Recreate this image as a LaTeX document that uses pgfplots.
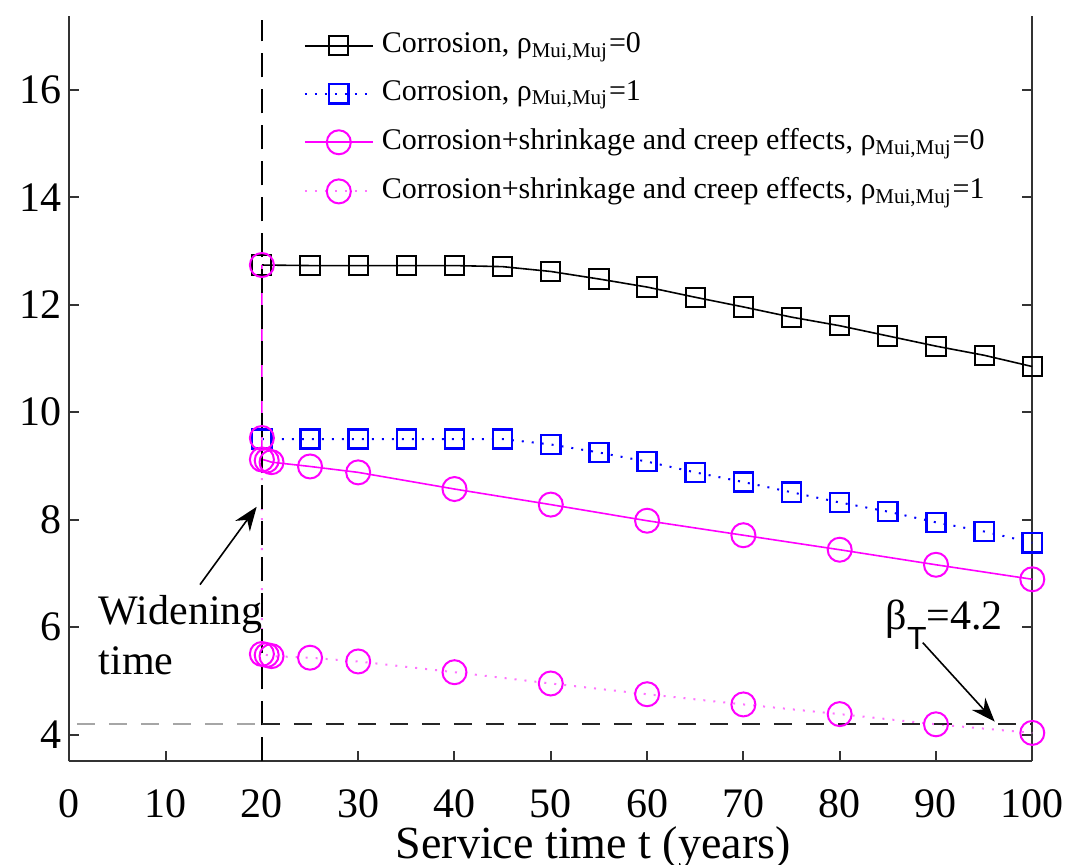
\documentclass[border=0pt]{standalone}
\usepackage{fontspec}
\setmainfont{Liberation Serif}
\setsansfont{Liberation Sans}
\usepackage{pgfplots}
\pgfplotsset{compat=1.18}
\usetikzlibrary{arrows.meta}
\definecolor{mag}{RGB}{255,0,255}
\definecolor{blu}{RGB}{0,0,255}
\begin{document}
\begin{tikzpicture}
\begin{axis}[
  scale only axis, width=240.75pt, height=186.4pt,
  xmin=0, xmax=100, ymin=3.5, ymax=17.38,
  axis x line*=bottom,
  tick align=inside, major tick length=2.5pt,
  xtick={0,10,...,100}, ytick={4,6,...,16},
  ytick pos=both,
  tick label style={font=\fontsize{10.5}{12}\selectfont},
  /pgf/number format/assume math mode=true,
  xticklabel style={yshift=-3.5pt},
  yticklabel style={xshift=1.5pt},
  axis line style={line width=0.5pt, black!80},
  tick style={black!80, line width=0.5pt},
  clip=false,
  legend style={at={(axis cs:24.27,17.225)}, anchor=north west, draw=none, fill=none,
    inner sep=0pt, font=\fontsize{7.5}{9}\selectfont, row sep=1.5pt,
    /tikz/every even column/.append style={column sep=0pt}},
  legend cell align=left,
  legend image code/.code={\draw[mark repeat=2,mark phase=2,#1] plot coordinates {(0pt,0pt) (8.5pt,0pt) (17pt,0pt)};},
]
\coordinate (bbsw) at (axis cs:-7.196,1.581);
\coordinate (bbne) at (axis cs:104.23,17.674);

\addplot[black, line width=0.4pt, mark=square, mark size=2.4pt, mark options={solid, line width=0.5pt}] coordinates {
(20,12.74)(25,12.73)(30,12.73)(35,12.73)(40,12.73)(45,12.71)(50,12.62)(55,12.48)(60,12.33)(65,12.14)(70,11.96)(75,11.77)(80,11.61)(85,11.42)(90,11.23)(95,11.06)(100,10.85)};
\addlegendentry{Corrosion, ρ\textsubscript{Mui,Muj}=0}

\addplot[blu, dotted, line width=0.5pt, mark=square, mark size=2.4pt, mark options={solid, line width=0.6pt}] coordinates {
(20,9.50)(25,9.50)(30,9.50)(35,9.50)(40,9.50)(45,9.50)(50,9.40)(55,9.25)(60,9.08)(65,8.88)(70,8.70)(75,8.51)(80,8.32)(85,8.15)(90,7.95)(95,7.78)(100,7.57)};
\addlegendentry{Corrosion, ρ\textsubscript{Mui,Muj}=1}

\addplot[mag, line width=0.4pt, mark=o, mark size=3pt, mark options={solid, line width=0.5pt}] coordinates {
(20,12.74)(20,9.12)(20.5,9.10)(21,9.07)(25,8.99)(30,8.88)(40,8.57)(50,8.28)(60,7.98)(70,7.71)(80,7.44)(90,7.16)(100,6.89)};
\addlegendentry{Corrosion+shrinkage and creep effects, ρ\textsubscript{Mui,Muj}=0}

\addplot[mag!55, dotted, line width=0.5pt, mark=o, mark size=3pt, mark options={solid, mag, line width=0.5pt}] coordinates {
(20,9.52)(20,5.50)(20.5,5.48)(21,5.46)(25,5.43)(30,5.36)(40,5.16)(50,4.95)(60,4.75)(70,4.56)(80,4.38)(90,4.19)(100,4.03)};
\addlegendentry{Corrosion+shrinkage and creep effects, ρ\textsubscript{Mui,Muj}=1}

\addplot[forget plot, black, line width=0.5pt, dash pattern=on 6pt off 3pt] coordinates {(20,3.5)(20,17.3)};
\addplot[forget plot, black!35, line width=0.5pt, dash pattern=on 4.5pt off 3.5pt] coordinates {(0.8,4.2)(20,4.2)};
\addplot[forget plot, black!85, line width=0.5pt, dash pattern=on 4.5pt off 3.5pt] coordinates {(20,4.2)(100,4.2)};

\draw[black, line width=0.4pt, -{Stealth[length=6pt,width=4.5pt]}] (axis cs:13.57,6.79) -- (axis cs:19.46,8.24);
\draw[black, line width=0.4pt, -{Stealth[length=6pt,width=4.5pt]}] (axis cs:88.63,5.71) -- (axis cs:96.1,4.24);

\node[anchor=base west, inner sep=0pt, font=\fontsize{10.5}{12}\selectfont] at (axis cs:2.98,6.047) {Widening};
\node[anchor=base west, inner sep=0pt, font=\fontsize{10.5}{12}\selectfont] at (axis cs:2.98,5.116) {time};
\node[anchor=base west, inner sep=0pt, font=\fontsize{10.5}{12}\selectfont] at (axis cs:84.7,5.95) {β\raisebox{-5pt}{\fontsize{8}{9}\selectfont\sffamily T}=4.2};
\node[anchor=base, inner sep=0pt, font=\fontsize{11.5}{14}\selectfont] at (axis cs:54.4,1.70) {Service time t (years)};
\end{axis}
\pgfresetboundingbox
\path[use as bounding box] (bbsw) rectangle (bbne);
\end{tikzpicture}
\end{document}
